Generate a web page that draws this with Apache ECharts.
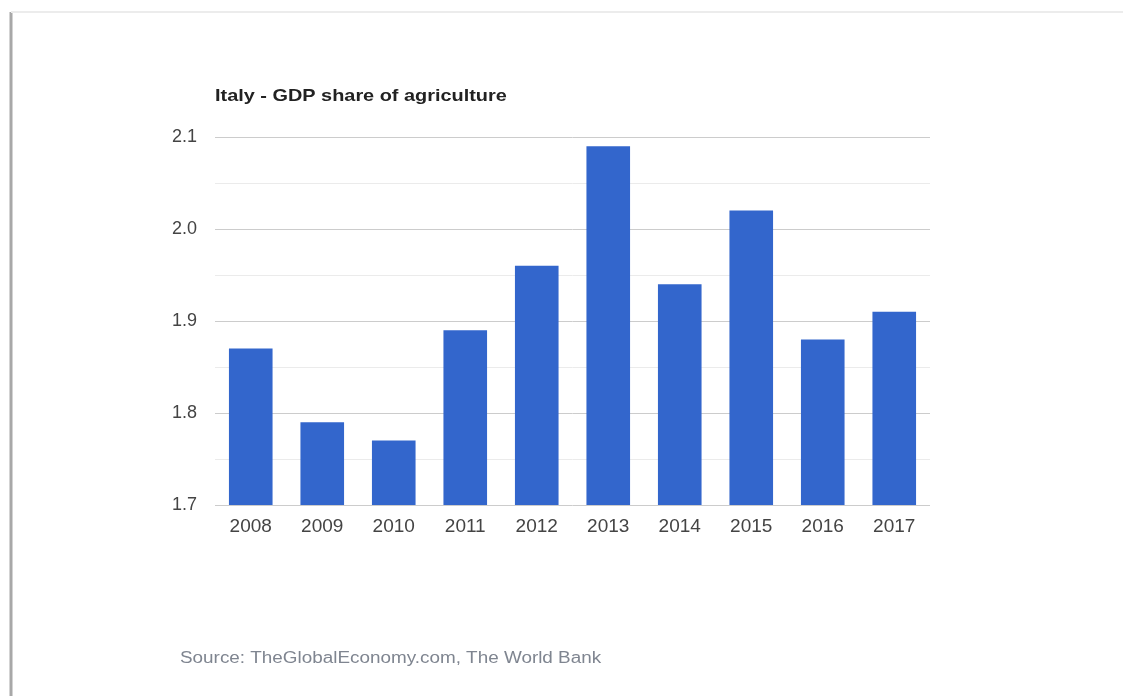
<!DOCTYPE html>
<html><head><meta charset="utf-8">
<script src="https://cdn.jsdelivr.net/npm/echarts@6/dist/echarts.min.js"></script>
<style>html,body{margin:0;padding:0;background:#fff}#c{width:1123px;height:696px}</style>
</head><body><div id="c"></div>
<script>
const years = ['2008','2009','2010','2011','2012','2013','2014','2015','2016','2017'];
const gdpShare = [1.87, 1.79, 1.77, 1.89, 1.96, 2.09, 1.94, 2.02, 1.88, 1.91];
const yTicks = [1.7, 1.8, 1.9, 2.0, 2.1];
const titleText = 'Italy - GDP share of agriculture';
const sourceText = 'Source: TheGlobalEconomy.com, The World Bank';

const chart = echarts.init(document.getElementById('c'), null, {renderer:'canvas'});
chart.setOption({
  animation:false,
  backgroundColor:'#fff',
  textStyle:{fontFamily:'Liberation Sans, Arial, sans-serif'},
  graphic:[
    {type:'line', shape:{x1:11,y1:12,x2:11,y2:696}, style:{stroke:'#a8a8a8', lineWidth:3}},
    {type:'line', shape:{x1:11,y1:12,x2:1123,y2:12}, style:{stroke:'#ececec', lineWidth:2}},
    {type:'text', x:215, y:96, scaleX:1.17,
      style:{text:titleText, fill:'#222', font:'bold 17px "Liberation Sans", Arial, sans-serif', textAlign:'left', textVerticalAlign:'middle'}},
    {type:'text', x:180, y:659, scaleX:1.18,
      style:{text:sourceText, fill:'#7f8590', font:'16px "Liberation Sans", Arial, sans-serif', textAlign:'left', textVerticalAlign:'middle'}}
  ],
  grid:{left:215, right:193, top:137, bottom:191, containLabel:false},
  xAxis:{type:'category', data:years,
    axisLine:{show:false}, axisTick:{show:false},
    axisLabel:{color:'#444', fontSize:19, margin:12}},
  yAxis:{type:'value', min:yTicks[0], max:yTicks[yTicks.length-1], interval:0.1,
    axisLine:{show:false}, axisTick:{show:false},
    axisLabel:{color:'#444', fontSize:18, margin:18, formatter:v=>v.toFixed(1)},
    splitLine:{lineStyle:{color:'#cccccc', width:1}},
    minorTick:{show:false, splitNumber:2},
    minorSplitLine:{show:true, lineStyle:{color:'#ebebeb', width:1}}},
  series:[{type:'bar', data:gdpShare, barWidth:'61%',
    itemStyle:{color:'#3366cc'}}]
});
</script></body></html>
